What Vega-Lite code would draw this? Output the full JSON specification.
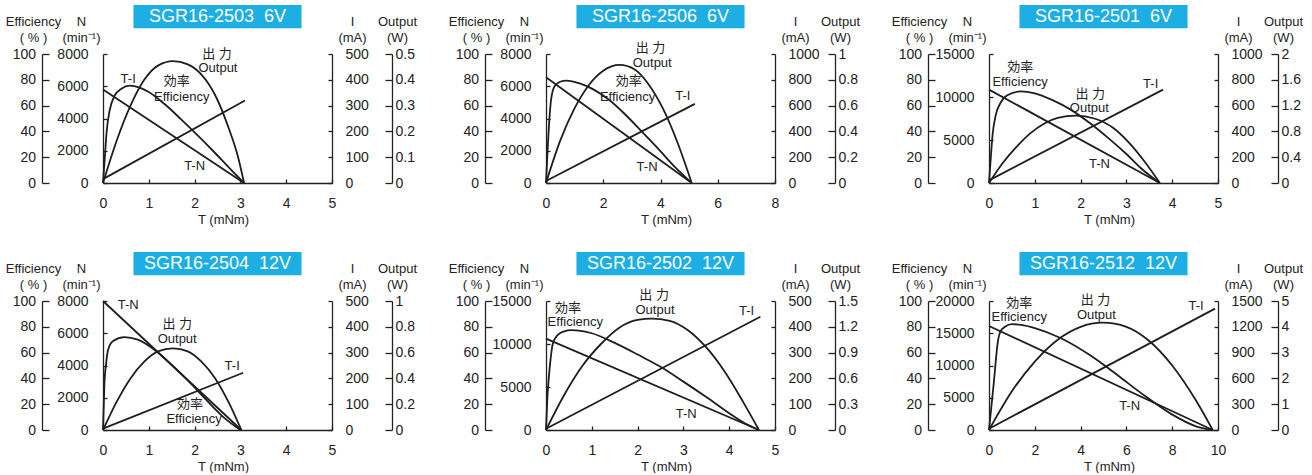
{
"$schema": "https://vega.github.io/schema/vega-lite/v6.json",
"padding": {"left": 5, "top": 4, "right": 5, "bottom": 0},
"config": {
 "view": {"stroke": null},
 "axis": {"grid": false, "domainColor": "#222", "domainWidth": 1.3, "tickColor": "#222", "tickWidth": 1.3, "labelColor": "#222", "labelFont": "Liberation Sans", "labelFontSize": 14, "titleFont": "Liberation Sans", "titleFontSize": 13, "titleFontWeight": "normal", "titleColor": "#222", "titleAngle": 0, "titleAlign": "center", "titleBaseline": "alphabetic", "titleLineHeight": 16, "labelOverlap": false, "labelFlush": false, "labelBound": false},
 "axisX": {"tickSize": -4, "labelPadding": 17, "titleX": 120, "titleY": 40},
 "line": {"color": "#1e1e1e", "strokeWidth": 1.8, "interpolate": "monotone"},
 "text": {"font": "Liberation Sans, Noto Sans CJK JP", "fontSize": 13, "color": "#222"}
},
"datasets": {
 "curves": [
  {"p":1,"c":"e","t":0,"v":0},{"p":1,"c":"e","t":0.04,"v":20},{"p":1,"c":"e","t":0.08,"v":40},{"p":1,"c":"e","t":0.15,"v":57},{"p":1,"c":"e","t":0.25,"v":67.5},{"p":1,"c":"e","t":0.4,"v":73},{"p":1,"c":"e","t":0.58,"v":75.5},{"p":1,"c":"e","t":0.8,"v":74},{"p":1,"c":"e","t":1.0,"v":70.5},{"p":1,"c":"e","t":1.35,"v":61},{"p":1,"c":"e","t":1.7,"v":49.5},{"p":1,"c":"e","t":2.05,"v":37.5},{"p":1,"c":"e","t":2.4,"v":25},{"p":1,"c":"e","t":2.75,"v":12},{"p":1,"c":"e","t":3.08,"v":0},
  {"p":1,"c":"n","t":0,"v":5800},{"p":1,"c":"n","t":3.08,"v":0},
  {"p":1,"c":"i","t":0,"v":15},{"p":1,"c":"i","t":3.1,"v":320},
  {"p":1,"c":"o","t":0,"v":0},{"p":1,"c":"o","t":0.3,"v":0.165},{"p":1,"c":"o","t":0.6,"v":0.3},{"p":1,"c":"o","t":0.9,"v":0.4},{"p":1,"c":"o","t":1.2,"v":0.455},{"p":1,"c":"o","t":1.53,"v":0.472},{"p":1,"c":"o","t":1.85,"v":0.46},{"p":1,"c":"o","t":2.15,"v":0.42},{"p":1,"c":"o","t":2.45,"v":0.34},{"p":1,"c":"o","t":2.75,"v":0.21},{"p":1,"c":"o","t":2.95,"v":0.1},{"p":1,"c":"o","t":3.08,"v":0},

  {"p":2,"c":"e","t":0,"v":0},{"p":2,"c":"e","t":0.06,"v":27},{"p":2,"c":"e","t":0.12,"v":50},{"p":2,"c":"e","t":0.18,"v":65},{"p":2,"c":"e","t":0.3,"v":75},{"p":2,"c":"e","t":0.5,"v":78.5},{"p":2,"c":"e","t":0.7,"v":79.4},{"p":2,"c":"e","t":1.2,"v":77},{"p":2,"c":"e","t":1.7,"v":72},{"p":2,"c":"e","t":2.2,"v":64.5},{"p":2,"c":"e","t":2.75,"v":53.5},{"p":2,"c":"e","t":3.3,"v":41},{"p":2,"c":"e","t":3.9,"v":27},{"p":2,"c":"e","t":4.5,"v":12.5},{"p":2,"c":"e","t":5.09,"v":0},
  {"p":2,"c":"n","t":0,"v":6560},{"p":2,"c":"n","t":5.09,"v":0},
  {"p":2,"c":"i","t":0,"v":15},{"p":2,"c":"i","t":5.2,"v":613},
  {"p":2,"c":"o","t":0,"v":0},{"p":2,"c":"o","t":0.5,"v":0.33},{"p":2,"c":"o","t":1.0,"v":0.58},{"p":2,"c":"o","t":1.5,"v":0.76},{"p":2,"c":"o","t":2.0,"v":0.87},{"p":2,"c":"o","t":2.57,"v":0.915},{"p":2,"c":"o","t":3.1,"v":0.88},{"p":2,"c":"o","t":3.6,"v":0.76},{"p":2,"c":"o","t":4.1,"v":0.57},{"p":2,"c":"o","t":4.6,"v":0.31},{"p":2,"c":"o","t":5.09,"v":0},

  {"p":3,"c":"e","t":0,"v":0},{"p":3,"c":"e","t":0.04,"v":20},{"p":3,"c":"e","t":0.08,"v":38},{"p":3,"c":"e","t":0.15,"v":53},{"p":3,"c":"e","t":0.25,"v":62},{"p":3,"c":"e","t":0.4,"v":68},{"p":3,"c":"e","t":0.69,"v":71},{"p":3,"c":"e","t":1.0,"v":69.5},{"p":3,"c":"e","t":1.4,"v":64},{"p":3,"c":"e","t":1.8,"v":56.5},{"p":3,"c":"e","t":2.2,"v":46.5},{"p":3,"c":"e","t":2.6,"v":35},{"p":3,"c":"e","t":3.0,"v":22.5},{"p":3,"c":"e","t":3.35,"v":10.5},{"p":3,"c":"e","t":3.73,"v":0},
  {"p":3,"c":"n","t":0,"v":10860},{"p":3,"c":"n","t":3.73,"v":0},
  {"p":3,"c":"i","t":0,"v":20},{"p":3,"c":"i","t":3.8,"v":724},
  {"p":3,"c":"o","t":0,"v":0},{"p":3,"c":"o","t":0.3,"v":0.31},{"p":3,"c":"o","t":0.6,"v":0.56},{"p":3,"c":"o","t":0.9,"v":0.77},{"p":3,"c":"o","t":1.2,"v":0.92},{"p":3,"c":"o","t":1.5,"v":1.01},{"p":3,"c":"o","t":1.9,"v":1.046},{"p":3,"c":"o","t":2.3,"v":1.0},{"p":3,"c":"o","t":2.7,"v":0.86},{"p":3,"c":"o","t":3.05,"v":0.63},{"p":3,"c":"o","t":3.4,"v":0.33},{"p":3,"c":"o","t":3.73,"v":0},

  {"p":4,"c":"e","t":0,"v":0},{"p":4,"c":"e","t":0.03,"v":35},{"p":4,"c":"e","t":0.07,"v":52},{"p":4,"c":"e","t":0.11,"v":62},{"p":4,"c":"e","t":0.22,"v":69},{"p":4,"c":"e","t":0.47,"v":72},{"p":4,"c":"e","t":0.76,"v":70},{"p":4,"c":"e","t":1.2,"v":60},{"p":4,"c":"e","t":1.56,"v":48.5},{"p":4,"c":"e","t":1.93,"v":35.5},{"p":4,"c":"e","t":2.29,"v":22},{"p":4,"c":"e","t":2.66,"v":9},{"p":4,"c":"e","t":3.0,"v":0},
  {"p":4,"c":"n","t":0,"v":8000},{"p":4,"c":"n","t":3.02,"v":0},
  {"p":4,"c":"i","t":0,"v":5},{"p":4,"c":"i","t":3.06,"v":222},
  {"p":4,"c":"o","t":0,"v":0},{"p":4,"c":"o","t":0.3,"v":0.22},{"p":4,"c":"o","t":0.6,"v":0.4},{"p":4,"c":"o","t":0.9,"v":0.53},{"p":4,"c":"o","t":1.2,"v":0.61},{"p":4,"c":"o","t":1.53,"v":0.633},{"p":4,"c":"o","t":1.85,"v":0.61},{"p":4,"c":"o","t":2.15,"v":0.53},{"p":4,"c":"o","t":2.45,"v":0.4},{"p":4,"c":"o","t":2.75,"v":0.21},{"p":4,"c":"o","t":3.02,"v":0},

  {"p":5,"c":"e","t":0,"v":0},{"p":5,"c":"e","t":0.03,"v":25},{"p":5,"c":"e","t":0.06,"v":40},{"p":5,"c":"e","t":0.1,"v":55},{"p":5,"c":"e","t":0.15,"v":67},{"p":5,"c":"e","t":0.25,"v":73.5},{"p":5,"c":"e","t":0.4,"v":76.5},{"p":5,"c":"e","t":0.55,"v":77.5},{"p":5,"c":"e","t":1.0,"v":75},{"p":5,"c":"e","t":1.5,"v":67.5},{"p":5,"c":"e","t":2.0,"v":58.5},{"p":5,"c":"e","t":2.5,"v":49},{"p":5,"c":"e","t":3.0,"v":37.5},{"p":5,"c":"e","t":3.5,"v":25.5},{"p":5,"c":"e","t":4.0,"v":13},{"p":5,"c":"e","t":4.35,"v":5},{"p":5,"c":"e","t":4.65,"v":0},
  {"p":5,"c":"n","t":0,"v":10620},{"p":5,"c":"n","t":4.65,"v":0},
  {"p":5,"c":"i","t":0,"v":5},{"p":5,"c":"i","t":4.68,"v":439},
  {"p":5,"c":"o","t":0,"v":0},{"p":5,"c":"o","t":0.4,"v":0.41},{"p":5,"c":"o","t":0.8,"v":0.75},{"p":5,"c":"o","t":1.2,"v":1.0},{"p":5,"c":"o","t":1.6,"v":1.19},{"p":5,"c":"o","t":2.0,"v":1.28},{"p":5,"c":"o","t":2.31,"v":1.295},{"p":5,"c":"o","t":2.7,"v":1.27},{"p":5,"c":"o","t":3.1,"v":1.16},{"p":5,"c":"o","t":3.5,"v":0.96},{"p":5,"c":"o","t":3.9,"v":0.68},{"p":5,"c":"o","t":4.3,"v":0.33},{"p":5,"c":"o","t":4.65,"v":0},

  {"p":6,"c":"e","t":0,"v":0},{"p":6,"c":"e","t":0.2,"v":35},{"p":6,"c":"e","t":0.4,"v":70},{"p":6,"c":"e","t":0.5,"v":76.5},{"p":6,"c":"e","t":0.7,"v":80},{"p":6,"c":"e","t":1.0,"v":82},{"p":6,"c":"e","t":1.4,"v":81.5},{"p":6,"c":"e","t":2.0,"v":79},{"p":6,"c":"e","t":3.1,"v":71.5},{"p":6,"c":"e","t":4.45,"v":57.5},{"p":6,"c":"e","t":5.05,"v":50},{"p":6,"c":"e","t":5.65,"v":42},{"p":6,"c":"e","t":6.8,"v":26.5},{"p":6,"c":"e","t":7.95,"v":12.5},{"p":6,"c":"e","t":9.1,"v":2.5},{"p":6,"c":"e","t":9.77,"v":0},
  {"p":6,"c":"n","t":0,"v":16120},{"p":6,"c":"n","t":9.77,"v":0},
  {"p":6,"c":"i","t":0,"v":15},{"p":6,"c":"i","t":9.87,"v":1411},
  {"p":6,"c":"o","t":0,"v":0},{"p":6,"c":"o","t":1,"v":1.5},{"p":6,"c":"o","t":2,"v":2.65},{"p":6,"c":"o","t":3,"v":3.5},{"p":6,"c":"o","t":4,"v":4.0},{"p":6,"c":"o","t":4.97,"v":4.16},{"p":6,"c":"o","t":6,"v":4.0},{"p":6,"c":"o","t":7,"v":3.45},{"p":6,"c":"o","t":8,"v":2.5},{"p":6,"c":"o","t":9,"v":1.2},{"p":6,"c":"o","t":9.77,"v":0}
 ],
 "labels": [
  {"p":1,"lab":"出 力","t":2.49,"v":100},{"p":1,"lab":"Output","t":2.51,"v":89},{"p":1,"lab":"効率","t":1.61,"v":79},{"p":1,"lab":"Efficiency","t":1.72,"v":67},{"p":1,"lab":"T-I","t":0.55,"v":81},{"p":1,"lab":"T-N","t":2.0,"v":13},
  {"p":2,"lab":"出 力","t":3.65,"v":104.9},{"p":2,"lab":"Output","t":3.71,"v":93.3},{"p":2,"lab":"効率","t":2.89,"v":79},{"p":2,"lab":"Efficiency","t":2.85,"v":66.9},{"p":2,"lab":"T-I","t":4.78,"v":67.4},{"p":2,"lab":"T-N","t":3.53,"v":12.6},
  {"p":3,"lab":"効率","t":0.68,"v":90},{"p":3,"lab":"Efficiency","t":0.68,"v":78},{"p":3,"lab":"出 力","t":2.21,"v":69},{"p":3,"lab":"Output","t":2.19,"v":58},{"p":3,"lab":"T-I","t":3.53,"v":77},{"p":3,"lab":"T-N","t":2.41,"v":14.7},
  {"p":4,"lab":"T-N","t":0.55,"v":96.9},{"p":4,"lab":"出 力","t":1.62,"v":82},{"p":4,"lab":"Output","t":1.62,"v":70.5},{"p":4,"lab":"T-I","t":2.82,"v":50},{"p":4,"lab":"効率","t":1.9,"v":20},{"p":4,"lab":"Efficiency","t":1.99,"v":8.5},
  {"p":5,"lab":"効率","t":0.48,"v":94.6},{"p":5,"lab":"Efficiency","t":0.64,"v":83.7},{"p":5,"lab":"出 力","t":2.36,"v":105},{"p":5,"lab":"Output","t":2.38,"v":93},{"p":5,"lab":"T-I","t":4.38,"v":92},{"p":5,"lab":"T-N","t":3.06,"v":12.4},
  {"p":6,"lab":"効率","t":1.32,"v":98.4},{"p":6,"lab":"Efficiency","t":1.32,"v":87.6},{"p":6,"lab":"出 力","t":4.65,"v":101},{"p":6,"lab":"Output","t":4.69,"v":89},{"p":6,"lab":"T-I","t":9.04,"v":96},{"p":6,"lab":"T-N","t":6.14,"v":18.6}
 ]
},
"columns": 3,
"spacing": {"row": 118, "column": 214},
"bounds": "flush",
"concat": [
 {"width": 229, "height": 129, "resolve": {"scale": {"y": "independent"}},
  "layer": [
   {"data": {"name": "curves"}, "transform": [{"filter": "datum.p == 1 && datum.c == 'e'"}], "mark": "line",
    "encoding": {"x": {"field": "t", "type": "quantitative", "scale": {"domain": [0, 5], "nice": false}, "axis": {"values": [0,1,2,3,4,5], "format": "d", "title": "T (mNm)"}},
     "y": {"field": "v", "type": "quantitative", "scale": {"domain": [0, 100], "nice": false}, "axis": {"orient": "left", "offset": 61, "values": [0,20,40,60,80,100], "format": "d", "tickSize": -7, "labelPadding": 13.5, "title": ["Efficiency", "( % )"], "titleX": -9, "titleY": -29}}}},
   {"data": {"name": "curves"}, "transform": [{"filter": "datum.p == 1 && datum.c == 'n'"}], "mark": "line",
    "encoding": {"x": {"field": "t", "type": "quantitative", "scale": {"domain": [0, 5], "nice": false}, "axis": {"values": [0,1,2,3,4,5], "format": "d", "title": "T (mNm)"}},
     "y": {"field": "v", "type": "quantitative", "scale": {"domain": [0, 8000], "nice": false}, "axis": {"orient": "left", "offset": 0, "values": [0,2000,4000,6000,8000], "format": "d", "tickSize": -4, "labelPadding": 19, "title": ["N", "(min⁻¹)"], "titleX": -22, "titleY": -29}}}},
   {"data": {"name": "curves"}, "transform": [{"filter": "datum.p == 1 && datum.c == 'i'"}], "mark": "line",
    "encoding": {"x": {"field": "t", "type": "quantitative", "scale": {"domain": [0, 5], "nice": false}, "axis": {"values": [0,1,2,3,4,5], "format": "d", "title": "T (mNm)"}},
     "y": {"field": "v", "type": "quantitative", "scale": {"domain": [0, 500], "nice": false}, "axis": {"orient": "right", "offset": 0, "values": [0,100,200,300,400,500], "format": "d", "tickSize": -4, "labelPadding": 17, "title": ["I", "(mA)"], "titleX": 20, "titleY": -29}}}},
   {"data": {"name": "curves"}, "transform": [{"filter": "datum.p == 1 && datum.c == 'o'"}], "mark": "line",
    "encoding": {"x": {"field": "t", "type": "quantitative", "scale": {"domain": [0, 5], "nice": false}, "axis": {"values": [0,1,2,3,4,5], "format": "d", "title": "T (mNm)"}},
     "y": {"field": "v", "type": "quantitative", "scale": {"domain": [0, 0.5], "nice": false}, "axis": {"orient": "right", "offset": 60, "values": [0,0.1,0.2,0.3,0.4,0.5], "format": "~g", "tickSize": -7, "labelPadding": 10, "title": ["Output", "(W)"], "titleX": 5, "titleY": -29}}}},
   {"layer": [
     {"data": {"values": [{"title": "SGR16-2503\u00a0\u00a06V"}]}, "mark": {"type": "rect", "color": "#1DAEE3"},
      "encoding": {"x": {"datum": 0.665, "type": "quantitative", "scale": {"domain": [0, 5], "nice": false}, "axis": {"values": [0,1,2,3,4,5], "format": "d", "title": "T (mNm)"}}, "x2": {"datum": 4.335}, "y": {"datum": 120, "scale": {"domain": [0, 100], "nice": false}, "axis": null}, "y2": {"datum": 138}}},
     {"data": {"values": [{"title": "SGR16-2503\u00a0\u00a06V"}]}, "mark": {"type": "text", "color": "white", "fontSize": 18, "baseline": "middle"},
      "encoding": {"x": {"datum": 2.5, "type": "quantitative", "scale": {"domain": [0, 5], "nice": false}, "axis": {"values": [0,1,2,3,4,5], "format": "d", "title": "T (mNm)"}}, "y": {"datum": 129, "scale": {"domain": [0, 100], "nice": false}, "axis": null}, "text": {"field": "title"}}},
     {"data": {"name": "labels"}, "transform": [{"filter": "datum.p == 1"}], "mark": {"type": "text", "baseline": "middle"},
      "encoding": {"x": {"field": "t", "type": "quantitative", "scale": {"domain": [0, 5], "nice": false}, "axis": {"values": [0,1,2,3,4,5], "format": "d", "title": "T (mNm)"}}, "y": {"field": "v", "type": "quantitative", "scale": {"domain": [0, 100], "nice": false}, "axis": null}, "text": {"field": "lab"}}}
   ]}
  ]},

 {"width": 229, "height": 129, "resolve": {"scale": {"y": "independent"}},
  "layer": [
   {"data": {"name": "curves"}, "transform": [{"filter": "datum.p == 2 && datum.c == 'e'"}], "mark": "line",
    "encoding": {"x": {"field": "t", "type": "quantitative", "scale": {"domain": [0, 8], "nice": false}, "axis": {"values": [0,2,4,6,8], "format": "d", "title": "T (mNm)"}},
     "y": {"field": "v", "type": "quantitative", "scale": {"domain": [0, 100], "nice": false}, "axis": {"orient": "left", "offset": 61, "values": [0,20,40,60,80,100], "format": "d", "tickSize": -7, "labelPadding": 13.5, "title": ["Efficiency", "( % )"], "titleX": -9, "titleY": -29}}}},
   {"data": {"name": "curves"}, "transform": [{"filter": "datum.p == 2 && datum.c == 'n'"}], "mark": "line",
    "encoding": {"x": {"field": "t", "type": "quantitative", "scale": {"domain": [0, 8], "nice": false}, "axis": {"values": [0,2,4,6,8], "format": "d", "title": "T (mNm)"}},
     "y": {"field": "v", "type": "quantitative", "scale": {"domain": [0, 8000], "nice": false}, "axis": {"orient": "left", "offset": 0, "values": [0,2000,4000,6000,8000], "format": "d", "tickSize": -4, "labelPadding": 19, "title": ["N", "(min⁻¹)"], "titleX": -22, "titleY": -29}}}},
   {"data": {"name": "curves"}, "transform": [{"filter": "datum.p == 2 && datum.c == 'i'"}], "mark": "line",
    "encoding": {"x": {"field": "t", "type": "quantitative", "scale": {"domain": [0, 8], "nice": false}, "axis": {"values": [0,2,4,6,8], "format": "d", "title": "T (mNm)"}},
     "y": {"field": "v", "type": "quantitative", "scale": {"domain": [0, 1000], "nice": false}, "axis": {"orient": "right", "offset": 0, "values": [0,200,400,600,800,1000], "format": "d", "tickSize": -4, "labelPadding": 17, "title": ["I", "(mA)"], "titleX": 20, "titleY": -29}}}},
   {"data": {"name": "curves"}, "transform": [{"filter": "datum.p == 2 && datum.c == 'o'"}], "mark": "line",
    "encoding": {"x": {"field": "t", "type": "quantitative", "scale": {"domain": [0, 8], "nice": false}, "axis": {"values": [0,2,4,6,8], "format": "d", "title": "T (mNm)"}},
     "y": {"field": "v", "type": "quantitative", "scale": {"domain": [0, 1], "nice": false}, "axis": {"orient": "right", "offset": 60, "values": [0,0.2,0.4,0.6,0.8,1], "format": "~g", "tickSize": -7, "labelPadding": 10, "title": ["Output", "(W)"], "titleX": 5, "titleY": -29}}}},
   {"layer": [
     {"data": {"values": [{"title": "SGR16-2506\u00a0\u00a06V"}]}, "mark": {"type": "rect", "color": "#1DAEE3"},
      "encoding": {"x": {"datum": 1.064, "type": "quantitative", "scale": {"domain": [0, 8], "nice": false}, "axis": {"values": [0,2,4,6,8], "format": "d", "title": "T (mNm)"}}, "x2": {"datum": 6.936}, "y": {"datum": 120, "scale": {"domain": [0, 100], "nice": false}, "axis": null}, "y2": {"datum": 138}}},
     {"data": {"values": [{"title": "SGR16-2506\u00a0\u00a06V"}]}, "mark": {"type": "text", "color": "white", "fontSize": 18, "baseline": "middle"},
      "encoding": {"x": {"datum": 4, "type": "quantitative", "scale": {"domain": [0, 8], "nice": false}, "axis": {"values": [0,2,4,6,8], "format": "d", "title": "T (mNm)"}}, "y": {"datum": 129, "scale": {"domain": [0, 100], "nice": false}, "axis": null}, "text": {"field": "title"}}},
     {"data": {"name": "labels"}, "transform": [{"filter": "datum.p == 2"}], "mark": {"type": "text", "baseline": "middle"},
      "encoding": {"x": {"field": "t", "type": "quantitative", "scale": {"domain": [0, 8], "nice": false}, "axis": {"values": [0,2,4,6,8], "format": "d", "title": "T (mNm)"}}, "y": {"field": "v", "type": "quantitative", "scale": {"domain": [0, 100], "nice": false}, "axis": null}, "text": {"field": "lab"}}}
   ]}
  ]},

 {"width": 229, "height": 129, "resolve": {"scale": {"y": "independent"}},
  "layer": [
   {"data": {"name": "curves"}, "transform": [{"filter": "datum.p == 3 && datum.c == 'e'"}], "mark": "line",
    "encoding": {"x": {"field": "t", "type": "quantitative", "scale": {"domain": [0, 5], "nice": false}, "axis": {"values": [0,1,2,3,4,5], "format": "d", "title": "T (mNm)"}},
     "y": {"field": "v", "type": "quantitative", "scale": {"domain": [0, 100], "nice": false}, "axis": {"orient": "left", "offset": 61, "values": [0,20,40,60,80,100], "format": "d", "tickSize": -7, "labelPadding": 13.5, "title": ["Efficiency", "( % )"], "titleX": -9, "titleY": -29}}}},
   {"data": {"name": "curves"}, "transform": [{"filter": "datum.p == 3 && datum.c == 'n'"}], "mark": "line",
    "encoding": {"x": {"field": "t", "type": "quantitative", "scale": {"domain": [0, 5], "nice": false}, "axis": {"values": [0,1,2,3,4,5], "format": "d", "title": "T (mNm)"}},
     "y": {"field": "v", "type": "quantitative", "scale": {"domain": [0, 15000], "nice": false}, "axis": {"orient": "left", "offset": 0, "values": [0,5000,10000,15000], "format": "d", "tickSize": -4, "labelPadding": 19, "title": ["N", "(min⁻¹)"], "titleX": -22, "titleY": -29}}}},
   {"data": {"name": "curves"}, "transform": [{"filter": "datum.p == 3 && datum.c == 'i'"}], "mark": "line",
    "encoding": {"x": {"field": "t", "type": "quantitative", "scale": {"domain": [0, 5], "nice": false}, "axis": {"values": [0,1,2,3,4,5], "format": "d", "title": "T (mNm)"}},
     "y": {"field": "v", "type": "quantitative", "scale": {"domain": [0, 1000], "nice": false}, "axis": {"orient": "right", "offset": 0, "values": [0,200,400,600,800,1000], "format": "d", "tickSize": -4, "labelPadding": 17, "title": ["I", "(mA)"], "titleX": 20, "titleY": -29}}}},
   {"data": {"name": "curves"}, "transform": [{"filter": "datum.p == 3 && datum.c == 'o'"}], "mark": "line",
    "encoding": {"x": {"field": "t", "type": "quantitative", "scale": {"domain": [0, 5], "nice": false}, "axis": {"values": [0,1,2,3,4,5], "format": "d", "title": "T (mNm)"}},
     "y": {"field": "v", "type": "quantitative", "scale": {"domain": [0, 2], "nice": false}, "axis": {"orient": "right", "offset": 60, "values": [0,0.4,0.8,1.2,1.6,2], "format": "~g", "tickSize": -7, "labelPadding": 10, "title": ["Output", "(W)"], "titleX": 5, "titleY": -29}}}},
   {"layer": [
     {"data": {"values": [{"title": "SGR16-2501\u00a0\u00a06V"}]}, "mark": {"type": "rect", "color": "#1DAEE3"},
      "encoding": {"x": {"datum": 0.665, "type": "quantitative", "scale": {"domain": [0, 5], "nice": false}, "axis": {"values": [0,1,2,3,4,5], "format": "d", "title": "T (mNm)"}}, "x2": {"datum": 4.335}, "y": {"datum": 120, "scale": {"domain": [0, 100], "nice": false}, "axis": null}, "y2": {"datum": 138}}},
     {"data": {"values": [{"title": "SGR16-2501\u00a0\u00a06V"}]}, "mark": {"type": "text", "color": "white", "fontSize": 18, "baseline": "middle"},
      "encoding": {"x": {"datum": 2.5, "type": "quantitative", "scale": {"domain": [0, 5], "nice": false}, "axis": {"values": [0,1,2,3,4,5], "format": "d", "title": "T (mNm)"}}, "y": {"datum": 129, "scale": {"domain": [0, 100], "nice": false}, "axis": null}, "text": {"field": "title"}}},
     {"data": {"name": "labels"}, "transform": [{"filter": "datum.p == 3"}], "mark": {"type": "text", "baseline": "middle"},
      "encoding": {"x": {"field": "t", "type": "quantitative", "scale": {"domain": [0, 5], "nice": false}, "axis": {"values": [0,1,2,3,4,5], "format": "d", "title": "T (mNm)"}}, "y": {"field": "v", "type": "quantitative", "scale": {"domain": [0, 100], "nice": false}, "axis": null}, "text": {"field": "lab"}}}
   ]}
  ]},

 {"width": 229, "height": 129, "resolve": {"scale": {"y": "independent"}},
  "layer": [
   {"data": {"name": "curves"}, "transform": [{"filter": "datum.p == 4 && datum.c == 'e'"}], "mark": "line",
    "encoding": {"x": {"field": "t", "type": "quantitative", "scale": {"domain": [0, 5], "nice": false}, "axis": {"values": [0,1,2,3,4,5], "format": "d", "title": "T (mNm)"}},
     "y": {"field": "v", "type": "quantitative", "scale": {"domain": [0, 100], "nice": false}, "axis": {"orient": "left", "offset": 61, "values": [0,20,40,60,80,100], "format": "d", "tickSize": -7, "labelPadding": 13.5, "title": ["Efficiency", "( % )"], "titleX": -9, "titleY": -29}}}},
   {"data": {"name": "curves"}, "transform": [{"filter": "datum.p == 4 && datum.c == 'n'"}], "mark": "line",
    "encoding": {"x": {"field": "t", "type": "quantitative", "scale": {"domain": [0, 5], "nice": false}, "axis": {"values": [0,1,2,3,4,5], "format": "d", "title": "T (mNm)"}},
     "y": {"field": "v", "type": "quantitative", "scale": {"domain": [0, 8000], "nice": false}, "axis": {"orient": "left", "offset": 0, "values": [0,2000,4000,6000,8000], "format": "d", "tickSize": -4, "labelPadding": 19, "title": ["N", "(min⁻¹)"], "titleX": -22, "titleY": -29}}}},
   {"data": {"name": "curves"}, "transform": [{"filter": "datum.p == 4 && datum.c == 'i'"}], "mark": "line",
    "encoding": {"x": {"field": "t", "type": "quantitative", "scale": {"domain": [0, 5], "nice": false}, "axis": {"values": [0,1,2,3,4,5], "format": "d", "title": "T (mNm)"}},
     "y": {"field": "v", "type": "quantitative", "scale": {"domain": [0, 500], "nice": false}, "axis": {"orient": "right", "offset": 0, "values": [0,100,200,300,400,500], "format": "d", "tickSize": -4, "labelPadding": 17, "title": ["I", "(mA)"], "titleX": 20, "titleY": -29}}}},
   {"data": {"name": "curves"}, "transform": [{"filter": "datum.p == 4 && datum.c == 'o'"}], "mark": "line",
    "encoding": {"x": {"field": "t", "type": "quantitative", "scale": {"domain": [0, 5], "nice": false}, "axis": {"values": [0,1,2,3,4,5], "format": "d", "title": "T (mNm)"}},
     "y": {"field": "v", "type": "quantitative", "scale": {"domain": [0, 1], "nice": false}, "axis": {"orient": "right", "offset": 60, "values": [0,0.2,0.4,0.6,0.8,1], "format": "~g", "tickSize": -7, "labelPadding": 10, "title": ["Output", "(W)"], "titleX": 5, "titleY": -29}}}},
   {"layer": [
     {"data": {"values": [{"title": "SGR16-2504\u00a0\u00a012V"}]}, "mark": {"type": "rect", "color": "#1DAEE3"},
      "encoding": {"x": {"datum": 0.665, "type": "quantitative", "scale": {"domain": [0, 5], "nice": false}, "axis": {"values": [0,1,2,3,4,5], "format": "d", "title": "T (mNm)"}}, "x2": {"datum": 4.335}, "y": {"datum": 120, "scale": {"domain": [0, 100], "nice": false}, "axis": null}, "y2": {"datum": 138}}},
     {"data": {"values": [{"title": "SGR16-2504\u00a0\u00a012V"}]}, "mark": {"type": "text", "color": "white", "fontSize": 18, "baseline": "middle"},
      "encoding": {"x": {"datum": 2.5, "type": "quantitative", "scale": {"domain": [0, 5], "nice": false}, "axis": {"values": [0,1,2,3,4,5], "format": "d", "title": "T (mNm)"}}, "y": {"datum": 129, "scale": {"domain": [0, 100], "nice": false}, "axis": null}, "text": {"field": "title"}}},
     {"data": {"name": "labels"}, "transform": [{"filter": "datum.p == 4"}], "mark": {"type": "text", "baseline": "middle"},
      "encoding": {"x": {"field": "t", "type": "quantitative", "scale": {"domain": [0, 5], "nice": false}, "axis": {"values": [0,1,2,3,4,5], "format": "d", "title": "T (mNm)"}}, "y": {"field": "v", "type": "quantitative", "scale": {"domain": [0, 100], "nice": false}, "axis": null}, "text": {"field": "lab"}}}
   ]}
  ]},

 {"width": 229, "height": 129, "resolve": {"scale": {"y": "independent"}},
  "layer": [
   {"data": {"name": "curves"}, "transform": [{"filter": "datum.p == 5 && datum.c == 'e'"}], "mark": "line",
    "encoding": {"x": {"field": "t", "type": "quantitative", "scale": {"domain": [0, 5], "nice": false}, "axis": {"values": [0,1,2,3,4,5], "format": "d", "title": "T (mNm)"}},
     "y": {"field": "v", "type": "quantitative", "scale": {"domain": [0, 100], "nice": false}, "axis": {"orient": "left", "offset": 61, "values": [0,20,40,60,80,100], "format": "d", "tickSize": -7, "labelPadding": 13.5, "title": ["Efficiency", "( % )"], "titleX": -9, "titleY": -29}}}},
   {"data": {"name": "curves"}, "transform": [{"filter": "datum.p == 5 && datum.c == 'n'"}], "mark": "line",
    "encoding": {"x": {"field": "t", "type": "quantitative", "scale": {"domain": [0, 5], "nice": false}, "axis": {"values": [0,1,2,3,4,5], "format": "d", "title": "T (mNm)"}},
     "y": {"field": "v", "type": "quantitative", "scale": {"domain": [0, 15000], "nice": false}, "axis": {"orient": "left", "offset": 0, "values": [0,5000,10000,15000], "format": "d", "tickSize": -4, "labelPadding": 19, "title": ["N", "(min⁻¹)"], "titleX": -22, "titleY": -29}}}},
   {"data": {"name": "curves"}, "transform": [{"filter": "datum.p == 5 && datum.c == 'i'"}], "mark": "line",
    "encoding": {"x": {"field": "t", "type": "quantitative", "scale": {"domain": [0, 5], "nice": false}, "axis": {"values": [0,1,2,3,4,5], "format": "d", "title": "T (mNm)"}},
     "y": {"field": "v", "type": "quantitative", "scale": {"domain": [0, 500], "nice": false}, "axis": {"orient": "right", "offset": 0, "values": [0,100,200,300,400,500], "format": "d", "tickSize": -4, "labelPadding": 17, "title": ["I", "(mA)"], "titleX": 20, "titleY": -29}}}},
   {"data": {"name": "curves"}, "transform": [{"filter": "datum.p == 5 && datum.c == 'o'"}], "mark": "line",
    "encoding": {"x": {"field": "t", "type": "quantitative", "scale": {"domain": [0, 5], "nice": false}, "axis": {"values": [0,1,2,3,4,5], "format": "d", "title": "T (mNm)"}},
     "y": {"field": "v", "type": "quantitative", "scale": {"domain": [0, 1.5], "nice": false}, "axis": {"orient": "right", "offset": 60, "values": [0,0.3,0.6,0.9,1.2,1.5], "format": "~g", "tickSize": -7, "labelPadding": 10, "title": ["Output", "(W)"], "titleX": 5, "titleY": -29}}}},
   {"layer": [
     {"data": {"values": [{"title": "SGR16-2502\u00a0\u00a012V"}]}, "mark": {"type": "rect", "color": "#1DAEE3"},
      "encoding": {"x": {"datum": 0.665, "type": "quantitative", "scale": {"domain": [0, 5], "nice": false}, "axis": {"values": [0,1,2,3,4,5], "format": "d", "title": "T (mNm)"}}, "x2": {"datum": 4.335}, "y": {"datum": 120, "scale": {"domain": [0, 100], "nice": false}, "axis": null}, "y2": {"datum": 138}}},
     {"data": {"values": [{"title": "SGR16-2502\u00a0\u00a012V"}]}, "mark": {"type": "text", "color": "white", "fontSize": 18, "baseline": "middle"},
      "encoding": {"x": {"datum": 2.5, "type": "quantitative", "scale": {"domain": [0, 5], "nice": false}, "axis": {"values": [0,1,2,3,4,5], "format": "d", "title": "T (mNm)"}}, "y": {"datum": 129, "scale": {"domain": [0, 100], "nice": false}, "axis": null}, "text": {"field": "title"}}},
     {"data": {"name": "labels"}, "transform": [{"filter": "datum.p == 5"}], "mark": {"type": "text", "baseline": "middle"},
      "encoding": {"x": {"field": "t", "type": "quantitative", "scale": {"domain": [0, 5], "nice": false}, "axis": {"values": [0,1,2,3,4,5], "format": "d", "title": "T (mNm)"}}, "y": {"field": "v", "type": "quantitative", "scale": {"domain": [0, 100], "nice": false}, "axis": null}, "text": {"field": "lab"}}}
   ]}
  ]},

 {"width": 229, "height": 129, "resolve": {"scale": {"y": "independent"}},
  "layer": [
   {"data": {"name": "curves"}, "transform": [{"filter": "datum.p == 6 && datum.c == 'e'"}], "mark": "line",
    "encoding": {"x": {"field": "t", "type": "quantitative", "scale": {"domain": [0, 10], "nice": false}, "axis": {"values": [0,2,4,6,8,10], "format": "d", "title": "T (mNm)"}},
     "y": {"field": "v", "type": "quantitative", "scale": {"domain": [0, 100], "nice": false}, "axis": {"orient": "left", "offset": 61, "values": [0,20,40,60,80,100], "format": "d", "tickSize": -7, "labelPadding": 13.5, "title": ["Efficiency", "( % )"], "titleX": -9, "titleY": -29}}}},
   {"data": {"name": "curves"}, "transform": [{"filter": "datum.p == 6 && datum.c == 'n'"}], "mark": "line",
    "encoding": {"x": {"field": "t", "type": "quantitative", "scale": {"domain": [0, 10], "nice": false}, "axis": {"values": [0,2,4,6,8,10], "format": "d", "title": "T (mNm)"}},
     "y": {"field": "v", "type": "quantitative", "scale": {"domain": [0, 20000], "nice": false}, "axis": {"orient": "left", "offset": 0, "values": [0,5000,10000,15000,20000], "format": "d", "tickSize": -4, "labelPadding": 19, "title": ["N", "(min⁻¹)"], "titleX": -22, "titleY": -29}}}},
   {"data": {"name": "curves"}, "transform": [{"filter": "datum.p == 6 && datum.c == 'i'"}], "mark": "line",
    "encoding": {"x": {"field": "t", "type": "quantitative", "scale": {"domain": [0, 10], "nice": false}, "axis": {"values": [0,2,4,6,8,10], "format": "d", "title": "T (mNm)"}},
     "y": {"field": "v", "type": "quantitative", "scale": {"domain": [0, 1500], "nice": false}, "axis": {"orient": "right", "offset": 0, "values": [0,300,600,900,1200,1500], "format": "d", "tickSize": -4, "labelPadding": 17, "title": ["I", "(mA)"], "titleX": 20, "titleY": -29}}}},
   {"data": {"name": "curves"}, "transform": [{"filter": "datum.p == 6 && datum.c == 'o'"}], "mark": "line",
    "encoding": {"x": {"field": "t", "type": "quantitative", "scale": {"domain": [0, 10], "nice": false}, "axis": {"values": [0,2,4,6,8,10], "format": "d", "title": "T (mNm)"}},
     "y": {"field": "v", "type": "quantitative", "scale": {"domain": [0, 5], "nice": false}, "axis": {"orient": "right", "offset": 60, "values": [0,1,2,3,4,5], "format": "~g", "tickSize": -7, "labelPadding": 10, "title": ["Output", "(W)"], "titleX": 5, "titleY": -29}}}},
   {"layer": [
     {"data": {"values": [{"title": "SGR16-2512\u00a0\u00a012V"}]}, "mark": {"type": "rect", "color": "#1DAEE3"},
      "encoding": {"x": {"datum": 1.33, "type": "quantitative", "scale": {"domain": [0, 10], "nice": false}, "axis": {"values": [0,2,4,6,8,10], "format": "d", "title": "T (mNm)"}}, "x2": {"datum": 8.67}, "y": {"datum": 120, "scale": {"domain": [0, 100], "nice": false}, "axis": null}, "y2": {"datum": 138}}},
     {"data": {"values": [{"title": "SGR16-2512\u00a0\u00a012V"}]}, "mark": {"type": "text", "color": "white", "fontSize": 18, "baseline": "middle"},
      "encoding": {"x": {"datum": 5, "type": "quantitative", "scale": {"domain": [0, 10], "nice": false}, "axis": {"values": [0,2,4,6,8,10], "format": "d", "title": "T (mNm)"}}, "y": {"datum": 129, "scale": {"domain": [0, 100], "nice": false}, "axis": null}, "text": {"field": "title"}}},
     {"data": {"name": "labels"}, "transform": [{"filter": "datum.p == 6"}], "mark": {"type": "text", "baseline": "middle"},
      "encoding": {"x": {"field": "t", "type": "quantitative", "scale": {"domain": [0, 10], "nice": false}, "axis": {"values": [0,2,4,6,8,10], "format": "d", "title": "T (mNm)"}}, "y": {"field": "v", "type": "quantitative", "scale": {"domain": [0, 100], "nice": false}, "axis": null}, "text": {"field": "lab"}}}
   ]}
  ]}
]
}
